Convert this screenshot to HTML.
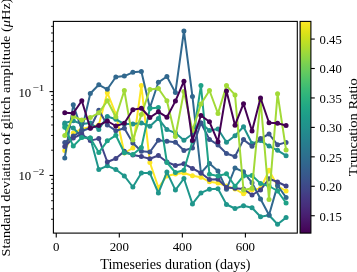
<!DOCTYPE html>
<html><head><meta charset="utf-8"><style>
html,body{margin:0;padding:0;background:#fff;width:357px;height:272px;overflow:hidden;}
svg{display:block;will-change:transform;}
</style></head><body>
<svg width="357" height="272" viewBox="0 0 357 272">
<defs><linearGradient id="vg" x1="0" y1="0" x2="0" y2="1"><stop offset="0.000" stop-color="#fde725"/><stop offset="0.025" stop-color="#efe51c"/><stop offset="0.050" stop-color="#dfe318"/><stop offset="0.075" stop-color="#cde11d"/><stop offset="0.100" stop-color="#bddf26"/><stop offset="0.125" stop-color="#addc30"/><stop offset="0.150" stop-color="#9bd93c"/><stop offset="0.175" stop-color="#8bd646"/><stop offset="0.200" stop-color="#7ad151"/><stop offset="0.225" stop-color="#6ccd5a"/><stop offset="0.250" stop-color="#5ec962"/><stop offset="0.275" stop-color="#50c46a"/><stop offset="0.300" stop-color="#44bf70"/><stop offset="0.325" stop-color="#38b977"/><stop offset="0.350" stop-color="#2fb47c"/><stop offset="0.375" stop-color="#28ae80"/><stop offset="0.400" stop-color="#22a884"/><stop offset="0.425" stop-color="#1fa287"/><stop offset="0.450" stop-color="#1e9c89"/><stop offset="0.475" stop-color="#1f968b"/><stop offset="0.500" stop-color="#21918c"/><stop offset="0.525" stop-color="#238a8d"/><stop offset="0.550" stop-color="#25848e"/><stop offset="0.575" stop-color="#277e8e"/><stop offset="0.600" stop-color="#2a788e"/><stop offset="0.625" stop-color="#2c728e"/><stop offset="0.650" stop-color="#2f6c8e"/><stop offset="0.675" stop-color="#31668e"/><stop offset="0.700" stop-color="#355f8d"/><stop offset="0.725" stop-color="#38598c"/><stop offset="0.750" stop-color="#3b528b"/><stop offset="0.775" stop-color="#3e4a89"/><stop offset="0.800" stop-color="#414487"/><stop offset="0.825" stop-color="#443b84"/><stop offset="0.850" stop-color="#463480"/><stop offset="0.875" stop-color="#472d7b"/><stop offset="0.900" stop-color="#482475"/><stop offset="0.925" stop-color="#481c6e"/><stop offset="0.950" stop-color="#471365"/><stop offset="0.975" stop-color="#460a5d"/><stop offset="1.000" stop-color="#440154"/></linearGradient></defs>
<defs><clipPath id="clip"><rect x="53.4" y="21.4" width="243.90" height="211.70"/></clipPath></defs>
<g clip-path="url(#clip)">
<polyline points="64.76,150.50 73.27,133.00 81.79,129.00 90.30,127.00 98.81,125.00 107.32,92.70 115.83,114.00 124.34,153.00 132.86,148.00 141.37,85.50 149.88,162.50 158.39,187.50 166.90,176.00 175.41,174.00 183.93,173.00 192.44,175.80 200.95,177.20 209.46,181.80 217.97,183.00 226.49,186.00 235.00,189.00 243.51,193.80 252.02,190.00 260.53,188.50 269.04,170.30 277.56,186.00 286.07,191.00" fill="none" stroke="#fde725" stroke-width="2.0" stroke-linejoin="round" stroke-linecap="butt"/>
<circle cx="64.76" cy="150.50" r="2.5" fill="#fde725"/>
<circle cx="73.27" cy="133.00" r="2.5" fill="#fde725"/>
<circle cx="81.79" cy="129.00" r="2.5" fill="#fde725"/>
<circle cx="90.30" cy="127.00" r="2.5" fill="#fde725"/>
<circle cx="98.81" cy="125.00" r="2.5" fill="#fde725"/>
<circle cx="107.32" cy="92.70" r="2.5" fill="#fde725"/>
<circle cx="115.83" cy="114.00" r="2.5" fill="#fde725"/>
<circle cx="124.34" cy="153.00" r="2.5" fill="#fde725"/>
<circle cx="132.86" cy="148.00" r="2.5" fill="#fde725"/>
<circle cx="141.37" cy="85.50" r="2.5" fill="#fde725"/>
<circle cx="149.88" cy="162.50" r="2.5" fill="#fde725"/>
<circle cx="158.39" cy="187.50" r="2.5" fill="#fde725"/>
<circle cx="166.90" cy="176.00" r="2.5" fill="#fde725"/>
<circle cx="175.41" cy="174.00" r="2.5" fill="#fde725"/>
<circle cx="183.93" cy="173.00" r="2.5" fill="#fde725"/>
<circle cx="192.44" cy="175.80" r="2.5" fill="#fde725"/>
<circle cx="200.95" cy="177.20" r="2.5" fill="#fde725"/>
<circle cx="209.46" cy="181.80" r="2.5" fill="#fde725"/>
<circle cx="217.97" cy="183.00" r="2.5" fill="#fde725"/>
<circle cx="226.49" cy="186.00" r="2.5" fill="#fde725"/>
<circle cx="235.00" cy="189.00" r="2.5" fill="#fde725"/>
<circle cx="243.51" cy="193.80" r="2.5" fill="#fde725"/>
<circle cx="252.02" cy="190.00" r="2.5" fill="#fde725"/>
<circle cx="260.53" cy="188.50" r="2.5" fill="#fde725"/>
<circle cx="269.04" cy="170.30" r="2.5" fill="#fde725"/>
<circle cx="277.56" cy="186.00" r="2.5" fill="#fde725"/>
<circle cx="286.07" cy="191.00" r="2.5" fill="#fde725"/>
<polyline points="64.76,123.00 73.27,120.80 81.79,124.00 90.30,123.00 98.81,129.50 107.32,116.50 115.83,119.30 124.34,124.00 132.86,124.10 141.37,123.00 149.88,126.30 158.39,118.60 166.90,129.60 175.41,133.00 183.93,140.20 192.44,134.00 200.95,122.90 209.46,130.50 217.97,129.00 226.49,142.20 235.00,135.80 243.51,126.80 252.02,143.50 260.53,140.60 269.04,146.10 277.56,150.30 286.07,155.70" fill="none" stroke="#21918c" stroke-width="2.0" stroke-linejoin="round" stroke-linecap="butt"/>
<circle cx="64.76" cy="123.00" r="2.5" fill="#21918c"/>
<circle cx="73.27" cy="120.80" r="2.5" fill="#21918c"/>
<circle cx="81.79" cy="124.00" r="2.5" fill="#21918c"/>
<circle cx="90.30" cy="123.00" r="2.5" fill="#21918c"/>
<circle cx="98.81" cy="129.50" r="2.5" fill="#21918c"/>
<circle cx="107.32" cy="116.50" r="2.5" fill="#21918c"/>
<circle cx="115.83" cy="119.30" r="2.5" fill="#21918c"/>
<circle cx="124.34" cy="124.00" r="2.5" fill="#21918c"/>
<circle cx="132.86" cy="124.10" r="2.5" fill="#21918c"/>
<circle cx="141.37" cy="123.00" r="2.5" fill="#21918c"/>
<circle cx="149.88" cy="126.30" r="2.5" fill="#21918c"/>
<circle cx="158.39" cy="118.60" r="2.5" fill="#21918c"/>
<circle cx="166.90" cy="129.60" r="2.5" fill="#21918c"/>
<circle cx="175.41" cy="133.00" r="2.5" fill="#21918c"/>
<circle cx="183.93" cy="140.20" r="2.5" fill="#21918c"/>
<circle cx="192.44" cy="134.00" r="2.5" fill="#21918c"/>
<circle cx="200.95" cy="122.90" r="2.5" fill="#21918c"/>
<circle cx="209.46" cy="130.50" r="2.5" fill="#21918c"/>
<circle cx="217.97" cy="129.00" r="2.5" fill="#21918c"/>
<circle cx="226.49" cy="142.20" r="2.5" fill="#21918c"/>
<circle cx="235.00" cy="135.80" r="2.5" fill="#21918c"/>
<circle cx="243.51" cy="126.80" r="2.5" fill="#21918c"/>
<circle cx="252.02" cy="143.50" r="2.5" fill="#21918c"/>
<circle cx="260.53" cy="140.60" r="2.5" fill="#21918c"/>
<circle cx="269.04" cy="146.10" r="2.5" fill="#21918c"/>
<circle cx="277.56" cy="150.30" r="2.5" fill="#21918c"/>
<circle cx="286.07" cy="155.70" r="2.5" fill="#21918c"/>
<polyline points="64.76,124.50 73.27,128.00 81.79,137.00 90.30,138.00 98.81,169.50 107.32,165.80 115.83,169.50 124.34,175.90 132.86,187.00 141.37,173.10 149.88,173.10 158.39,193.00 166.90,172.10 175.41,190.10 183.93,178.50 192.44,203.90 200.95,192.90 209.46,189.20 217.97,188.80 226.49,204.50 235.00,208.50 243.51,205.80 252.02,207.70 260.53,216.70 269.04,215.30 277.56,224.30 286.07,217.60" fill="none" stroke="#1f968b" stroke-width="2.0" stroke-linejoin="round" stroke-linecap="butt"/>
<circle cx="64.76" cy="124.50" r="2.5" fill="#1f968b"/>
<circle cx="73.27" cy="128.00" r="2.5" fill="#1f968b"/>
<circle cx="81.79" cy="137.00" r="2.5" fill="#1f968b"/>
<circle cx="90.30" cy="138.00" r="2.5" fill="#1f968b"/>
<circle cx="98.81" cy="169.50" r="2.5" fill="#1f968b"/>
<circle cx="107.32" cy="165.80" r="2.5" fill="#1f968b"/>
<circle cx="115.83" cy="169.50" r="2.5" fill="#1f968b"/>
<circle cx="124.34" cy="175.90" r="2.5" fill="#1f968b"/>
<circle cx="132.86" cy="187.00" r="2.5" fill="#1f968b"/>
<circle cx="141.37" cy="173.10" r="2.5" fill="#1f968b"/>
<circle cx="149.88" cy="173.10" r="2.5" fill="#1f968b"/>
<circle cx="158.39" cy="193.00" r="2.5" fill="#1f968b"/>
<circle cx="166.90" cy="172.10" r="2.5" fill="#1f968b"/>
<circle cx="175.41" cy="190.10" r="2.5" fill="#1f968b"/>
<circle cx="183.93" cy="178.50" r="2.5" fill="#1f968b"/>
<circle cx="192.44" cy="203.90" r="2.5" fill="#1f968b"/>
<circle cx="200.95" cy="192.90" r="2.5" fill="#1f968b"/>
<circle cx="209.46" cy="189.20" r="2.5" fill="#1f968b"/>
<circle cx="217.97" cy="188.80" r="2.5" fill="#1f968b"/>
<circle cx="226.49" cy="204.50" r="2.5" fill="#1f968b"/>
<circle cx="235.00" cy="208.50" r="2.5" fill="#1f968b"/>
<circle cx="243.51" cy="205.80" r="2.5" fill="#1f968b"/>
<circle cx="252.02" cy="207.70" r="2.5" fill="#1f968b"/>
<circle cx="260.53" cy="216.70" r="2.5" fill="#1f968b"/>
<circle cx="269.04" cy="215.30" r="2.5" fill="#1f968b"/>
<circle cx="277.56" cy="224.30" r="2.5" fill="#1f968b"/>
<circle cx="286.07" cy="217.60" r="2.5" fill="#1f968b"/>
<polyline points="64.76,158.00 73.27,104.80 81.79,130.00 90.30,93.50 98.81,84.80 107.32,89.30 115.83,77.00 124.34,76.10 132.86,72.30 141.37,71.60 149.88,107.80 158.39,82.30 166.90,76.50 175.41,92.60 183.93,31.00 192.44,96.40 200.95,173.00 209.46,163.40 217.97,170.90 226.49,189.30 235.00,168.00 243.51,171.80 252.02,182.80 260.53,199.00 269.04,215.00 277.56,185.40 286.07,197.50" fill="none" stroke="#31688e" stroke-width="2.0" stroke-linejoin="round" stroke-linecap="butt"/>
<circle cx="64.76" cy="158.00" r="2.5" fill="#31688e"/>
<circle cx="73.27" cy="104.80" r="2.5" fill="#31688e"/>
<circle cx="81.79" cy="130.00" r="2.5" fill="#31688e"/>
<circle cx="90.30" cy="93.50" r="2.5" fill="#31688e"/>
<circle cx="98.81" cy="84.80" r="2.5" fill="#31688e"/>
<circle cx="107.32" cy="89.30" r="2.5" fill="#31688e"/>
<circle cx="115.83" cy="77.00" r="2.5" fill="#31688e"/>
<circle cx="124.34" cy="76.10" r="2.5" fill="#31688e"/>
<circle cx="132.86" cy="72.30" r="2.5" fill="#31688e"/>
<circle cx="141.37" cy="71.60" r="2.5" fill="#31688e"/>
<circle cx="149.88" cy="107.80" r="2.5" fill="#31688e"/>
<circle cx="158.39" cy="82.30" r="2.5" fill="#31688e"/>
<circle cx="166.90" cy="76.50" r="2.5" fill="#31688e"/>
<circle cx="175.41" cy="92.60" r="2.5" fill="#31688e"/>
<circle cx="183.93" cy="31.00" r="2.5" fill="#31688e"/>
<circle cx="192.44" cy="96.40" r="2.5" fill="#31688e"/>
<circle cx="200.95" cy="173.00" r="2.5" fill="#31688e"/>
<circle cx="209.46" cy="163.40" r="2.5" fill="#31688e"/>
<circle cx="217.97" cy="170.90" r="2.5" fill="#31688e"/>
<circle cx="226.49" cy="189.30" r="2.5" fill="#31688e"/>
<circle cx="235.00" cy="168.00" r="2.5" fill="#31688e"/>
<circle cx="243.51" cy="171.80" r="2.5" fill="#31688e"/>
<circle cx="252.02" cy="182.80" r="2.5" fill="#31688e"/>
<circle cx="260.53" cy="199.00" r="2.5" fill="#31688e"/>
<circle cx="269.04" cy="215.00" r="2.5" fill="#31688e"/>
<circle cx="277.56" cy="185.40" r="2.5" fill="#31688e"/>
<circle cx="286.07" cy="197.50" r="2.5" fill="#31688e"/>
<polyline points="64.76,142.50 73.27,136.00 81.79,131.00 90.30,128.00 98.81,110.30 107.32,125.00 115.83,130.70 124.34,128.20 132.86,143.00 141.37,151.30 149.88,152.00 158.39,140.20 166.90,141.30 175.41,142.30 183.93,150.50 192.44,148.00 200.95,123.00 209.46,139.40 217.97,145.00 226.49,153.50 235.00,156.50 243.51,139.60 252.02,146.30 260.53,138.60 269.04,134.00 277.56,144.80 286.07,142.40" fill="none" stroke="#3b528b" stroke-width="2.0" stroke-linejoin="round" stroke-linecap="butt"/>
<circle cx="64.76" cy="142.50" r="2.5" fill="#3b528b"/>
<circle cx="73.27" cy="136.00" r="2.5" fill="#3b528b"/>
<circle cx="81.79" cy="131.00" r="2.5" fill="#3b528b"/>
<circle cx="90.30" cy="128.00" r="2.5" fill="#3b528b"/>
<circle cx="98.81" cy="110.30" r="2.5" fill="#3b528b"/>
<circle cx="107.32" cy="125.00" r="2.5" fill="#3b528b"/>
<circle cx="115.83" cy="130.70" r="2.5" fill="#3b528b"/>
<circle cx="124.34" cy="128.20" r="2.5" fill="#3b528b"/>
<circle cx="132.86" cy="143.00" r="2.5" fill="#3b528b"/>
<circle cx="141.37" cy="151.30" r="2.5" fill="#3b528b"/>
<circle cx="149.88" cy="152.00" r="2.5" fill="#3b528b"/>
<circle cx="158.39" cy="140.20" r="2.5" fill="#3b528b"/>
<circle cx="166.90" cy="141.30" r="2.5" fill="#3b528b"/>
<circle cx="175.41" cy="142.30" r="2.5" fill="#3b528b"/>
<circle cx="183.93" cy="150.50" r="2.5" fill="#3b528b"/>
<circle cx="192.44" cy="148.00" r="2.5" fill="#3b528b"/>
<circle cx="200.95" cy="123.00" r="2.5" fill="#3b528b"/>
<circle cx="209.46" cy="139.40" r="2.5" fill="#3b528b"/>
<circle cx="217.97" cy="145.00" r="2.5" fill="#3b528b"/>
<circle cx="226.49" cy="153.50" r="2.5" fill="#3b528b"/>
<circle cx="235.00" cy="156.50" r="2.5" fill="#3b528b"/>
<circle cx="243.51" cy="139.60" r="2.5" fill="#3b528b"/>
<circle cx="252.02" cy="146.30" r="2.5" fill="#3b528b"/>
<circle cx="260.53" cy="138.60" r="2.5" fill="#3b528b"/>
<circle cx="269.04" cy="134.00" r="2.5" fill="#3b528b"/>
<circle cx="277.56" cy="144.80" r="2.5" fill="#3b528b"/>
<circle cx="286.07" cy="142.40" r="2.5" fill="#3b528b"/>
<polyline points="64.76,146.50 73.27,138.00 81.79,134.20 90.30,140.60 98.81,138.60 107.32,162.00 115.83,158.50 124.34,151.30 132.86,155.00 141.37,156.60 149.88,158.80 158.39,155.50 166.90,162.00 175.41,165.50 183.93,163.80 192.44,168.40 200.95,173.00 209.46,179.50 217.97,179.20 226.49,187.50 235.00,188.30 243.51,189.00 252.02,195.00 260.53,190.00 269.04,178.80 277.56,182.00 286.07,186.00" fill="none" stroke="#414487" stroke-width="2.0" stroke-linejoin="round" stroke-linecap="butt"/>
<circle cx="64.76" cy="146.50" r="2.5" fill="#414487"/>
<circle cx="73.27" cy="138.00" r="2.5" fill="#414487"/>
<circle cx="81.79" cy="134.20" r="2.5" fill="#414487"/>
<circle cx="90.30" cy="140.60" r="2.5" fill="#414487"/>
<circle cx="98.81" cy="138.60" r="2.5" fill="#414487"/>
<circle cx="107.32" cy="162.00" r="2.5" fill="#414487"/>
<circle cx="115.83" cy="158.50" r="2.5" fill="#414487"/>
<circle cx="124.34" cy="151.30" r="2.5" fill="#414487"/>
<circle cx="132.86" cy="155.00" r="2.5" fill="#414487"/>
<circle cx="141.37" cy="156.60" r="2.5" fill="#414487"/>
<circle cx="149.88" cy="158.80" r="2.5" fill="#414487"/>
<circle cx="158.39" cy="155.50" r="2.5" fill="#414487"/>
<circle cx="166.90" cy="162.00" r="2.5" fill="#414487"/>
<circle cx="175.41" cy="165.50" r="2.5" fill="#414487"/>
<circle cx="183.93" cy="163.80" r="2.5" fill="#414487"/>
<circle cx="192.44" cy="168.40" r="2.5" fill="#414487"/>
<circle cx="200.95" cy="173.00" r="2.5" fill="#414487"/>
<circle cx="209.46" cy="179.50" r="2.5" fill="#414487"/>
<circle cx="217.97" cy="179.20" r="2.5" fill="#414487"/>
<circle cx="226.49" cy="187.50" r="2.5" fill="#414487"/>
<circle cx="235.00" cy="188.30" r="2.5" fill="#414487"/>
<circle cx="243.51" cy="189.00" r="2.5" fill="#414487"/>
<circle cx="252.02" cy="195.00" r="2.5" fill="#414487"/>
<circle cx="260.53" cy="190.00" r="2.5" fill="#414487"/>
<circle cx="269.04" cy="178.80" r="2.5" fill="#414487"/>
<circle cx="277.56" cy="182.00" r="2.5" fill="#414487"/>
<circle cx="286.07" cy="186.00" r="2.5" fill="#414487"/>
<polyline points="64.76,127.30 73.27,146.10 81.79,137.50 90.30,138.00 98.81,152.60 107.32,140.80 115.83,135.30 124.34,152.80 132.86,154.50 141.37,147.50 149.88,108.50 158.39,107.60 166.90,162.50 175.41,172.50 183.93,170.30 192.44,141.30 200.95,85.50 209.46,174.30 217.97,176.00 226.49,173.80 235.00,186.30 243.51,176.00 252.02,175.50 260.53,183.50 269.04,186.00 277.56,191.00 286.07,203.00" fill="none" stroke="#1fa187" stroke-width="2.0" stroke-linejoin="round" stroke-linecap="butt"/>
<circle cx="64.76" cy="127.30" r="2.5" fill="#1fa187"/>
<circle cx="73.27" cy="146.10" r="2.5" fill="#1fa187"/>
<circle cx="81.79" cy="137.50" r="2.5" fill="#1fa187"/>
<circle cx="90.30" cy="138.00" r="2.5" fill="#1fa187"/>
<circle cx="98.81" cy="152.60" r="2.5" fill="#1fa187"/>
<circle cx="107.32" cy="140.80" r="2.5" fill="#1fa187"/>
<circle cx="115.83" cy="135.30" r="2.5" fill="#1fa187"/>
<circle cx="124.34" cy="152.80" r="2.5" fill="#1fa187"/>
<circle cx="132.86" cy="154.50" r="2.5" fill="#1fa187"/>
<circle cx="141.37" cy="147.50" r="2.5" fill="#1fa187"/>
<circle cx="149.88" cy="108.50" r="2.5" fill="#1fa187"/>
<circle cx="158.39" cy="107.60" r="2.5" fill="#1fa187"/>
<circle cx="166.90" cy="162.50" r="2.5" fill="#1fa187"/>
<circle cx="175.41" cy="172.50" r="2.5" fill="#1fa187"/>
<circle cx="183.93" cy="170.30" r="2.5" fill="#1fa187"/>
<circle cx="192.44" cy="141.30" r="2.5" fill="#1fa187"/>
<circle cx="200.95" cy="85.50" r="2.5" fill="#1fa187"/>
<circle cx="209.46" cy="174.30" r="2.5" fill="#1fa187"/>
<circle cx="217.97" cy="176.00" r="2.5" fill="#1fa187"/>
<circle cx="226.49" cy="173.80" r="2.5" fill="#1fa187"/>
<circle cx="235.00" cy="186.30" r="2.5" fill="#1fa187"/>
<circle cx="243.51" cy="176.00" r="2.5" fill="#1fa187"/>
<circle cx="252.02" cy="175.50" r="2.5" fill="#1fa187"/>
<circle cx="260.53" cy="183.50" r="2.5" fill="#1fa187"/>
<circle cx="269.04" cy="186.00" r="2.5" fill="#1fa187"/>
<circle cx="277.56" cy="191.00" r="2.5" fill="#1fa187"/>
<circle cx="286.07" cy="203.00" r="2.5" fill="#1fa187"/>
<polyline points="64.76,135.50 73.27,116.50 81.79,120.00 90.30,117.60 98.81,112.80 107.32,100.80 115.83,117.00 124.34,90.50 132.86,140.00 141.37,114.60 149.88,89.50 158.39,88.50 166.90,100.80 175.41,136.50 183.93,91.60 192.44,130.50 200.95,104.00 209.46,90.50 217.97,113.50 226.49,85.60 235.00,94.90 243.51,190.00 252.02,188.30 260.53,100.00 269.04,199.50 277.56,93.80 286.07,149.90" fill="none" stroke="#a2da37" stroke-width="2.0" stroke-linejoin="round" stroke-linecap="butt"/>
<circle cx="64.76" cy="135.50" r="2.5" fill="#a2da37"/>
<circle cx="73.27" cy="116.50" r="2.5" fill="#a2da37"/>
<circle cx="81.79" cy="120.00" r="2.5" fill="#a2da37"/>
<circle cx="90.30" cy="117.60" r="2.5" fill="#a2da37"/>
<circle cx="98.81" cy="112.80" r="2.5" fill="#a2da37"/>
<circle cx="107.32" cy="100.80" r="2.5" fill="#a2da37"/>
<circle cx="115.83" cy="117.00" r="2.5" fill="#a2da37"/>
<circle cx="124.34" cy="90.50" r="2.5" fill="#a2da37"/>
<circle cx="132.86" cy="140.00" r="2.5" fill="#a2da37"/>
<circle cx="141.37" cy="114.60" r="2.5" fill="#a2da37"/>
<circle cx="149.88" cy="89.50" r="2.5" fill="#a2da37"/>
<circle cx="158.39" cy="88.50" r="2.5" fill="#a2da37"/>
<circle cx="166.90" cy="100.80" r="2.5" fill="#a2da37"/>
<circle cx="175.41" cy="136.50" r="2.5" fill="#a2da37"/>
<circle cx="183.93" cy="91.60" r="2.5" fill="#a2da37"/>
<circle cx="192.44" cy="130.50" r="2.5" fill="#a2da37"/>
<circle cx="200.95" cy="104.00" r="2.5" fill="#a2da37"/>
<circle cx="209.46" cy="90.50" r="2.5" fill="#a2da37"/>
<circle cx="217.97" cy="113.50" r="2.5" fill="#a2da37"/>
<circle cx="226.49" cy="85.60" r="2.5" fill="#a2da37"/>
<circle cx="235.00" cy="94.90" r="2.5" fill="#a2da37"/>
<circle cx="243.51" cy="190.00" r="2.5" fill="#a2da37"/>
<circle cx="252.02" cy="188.30" r="2.5" fill="#a2da37"/>
<circle cx="260.53" cy="100.00" r="2.5" fill="#a2da37"/>
<circle cx="269.04" cy="199.50" r="2.5" fill="#a2da37"/>
<circle cx="277.56" cy="93.80" r="2.5" fill="#a2da37"/>
<circle cx="286.07" cy="149.90" r="2.5" fill="#a2da37"/>
<polyline points="64.76,112.80 73.27,113.20 81.79,100.80 90.30,128.20 98.81,125.40 107.32,121.00 115.83,126.00 124.34,123.30 132.86,109.80 141.37,108.30 149.88,117.50 158.39,111.80 166.90,117.20 175.41,101.10 183.93,81.20 192.44,140.50 200.95,115.50 209.46,121.80 217.97,141.80 226.49,91.00 235.00,125.20 243.51,103.70 252.02,131.00 260.53,98.00 269.04,122.80 277.56,123.30 286.07,125.50" fill="none" stroke="#440154" stroke-width="2.0" stroke-linejoin="round" stroke-linecap="butt"/>
<circle cx="64.76" cy="112.80" r="2.5" fill="#440154"/>
<circle cx="73.27" cy="113.20" r="2.5" fill="#440154"/>
<circle cx="81.79" cy="100.80" r="2.5" fill="#440154"/>
<circle cx="90.30" cy="128.20" r="2.5" fill="#440154"/>
<circle cx="98.81" cy="125.40" r="2.5" fill="#440154"/>
<circle cx="107.32" cy="121.00" r="2.5" fill="#440154"/>
<circle cx="115.83" cy="126.00" r="2.5" fill="#440154"/>
<circle cx="124.34" cy="123.30" r="2.5" fill="#440154"/>
<circle cx="132.86" cy="109.80" r="2.5" fill="#440154"/>
<circle cx="141.37" cy="108.30" r="2.5" fill="#440154"/>
<circle cx="149.88" cy="117.50" r="2.5" fill="#440154"/>
<circle cx="158.39" cy="111.80" r="2.5" fill="#440154"/>
<circle cx="166.90" cy="117.20" r="2.5" fill="#440154"/>
<circle cx="175.41" cy="101.10" r="2.5" fill="#440154"/>
<circle cx="183.93" cy="81.20" r="2.5" fill="#440154"/>
<circle cx="192.44" cy="140.50" r="2.5" fill="#440154"/>
<circle cx="200.95" cy="115.50" r="2.5" fill="#440154"/>
<circle cx="209.46" cy="121.80" r="2.5" fill="#440154"/>
<circle cx="217.97" cy="141.80" r="2.5" fill="#440154"/>
<circle cx="226.49" cy="91.00" r="2.5" fill="#440154"/>
<circle cx="235.00" cy="125.20" r="2.5" fill="#440154"/>
<circle cx="243.51" cy="103.70" r="2.5" fill="#440154"/>
<circle cx="252.02" cy="131.00" r="2.5" fill="#440154"/>
<circle cx="260.53" cy="98.00" r="2.5" fill="#440154"/>
<circle cx="269.04" cy="122.80" r="2.5" fill="#440154"/>
<circle cx="277.56" cy="123.30" r="2.5" fill="#440154"/>
<circle cx="286.07" cy="125.50" r="2.5" fill="#440154"/>
</g>
<rect x="53.4" y="21.4" width="243.90" height="211.70" fill="none" stroke="#000" stroke-width="1.1"/>
<line x1="56.25" y1="233.1" x2="56.25" y2="237.5" stroke="#000" stroke-width="1.1"/>
<text x="56.25" y="251.4" font-family="Liberation Serif, serif" font-size="13.5" text-anchor="middle" fill="#000" textLength="6.45" lengthAdjust="spacingAndGlyphs">0</text>
<line x1="119.30" y1="233.1" x2="119.30" y2="237.5" stroke="#000" stroke-width="1.1"/>
<text x="119.30" y="251.4" font-family="Liberation Serif, serif" font-size="13.5" text-anchor="middle" fill="#000" textLength="19.35" lengthAdjust="spacingAndGlyphs">200</text>
<line x1="182.35" y1="233.1" x2="182.35" y2="237.5" stroke="#000" stroke-width="1.1"/>
<text x="182.35" y="251.4" font-family="Liberation Serif, serif" font-size="13.5" text-anchor="middle" fill="#000" textLength="19.35" lengthAdjust="spacingAndGlyphs">400</text>
<line x1="245.40" y1="233.1" x2="245.40" y2="237.5" stroke="#000" stroke-width="1.1"/>
<text x="245.40" y="251.4" font-family="Liberation Serif, serif" font-size="13.5" text-anchor="middle" fill="#000" textLength="19.35" lengthAdjust="spacingAndGlyphs">600</text>
<line x1="49.5" y1="91.60" x2="53.4" y2="91.60" stroke="#000" stroke-width="1.1"/>
<text x="18.4" y="96.50" font-family="Liberation Serif, serif" font-size="12.8" fill="#000" textLength="12.8" lengthAdjust="spacingAndGlyphs">10</text>
<text x="32.4" y="91.20" font-family="Liberation Serif, serif" font-size="9.2" fill="#000" textLength="12.0" lengthAdjust="spacingAndGlyphs">−1</text>
<line x1="49.5" y1="175.45" x2="53.4" y2="175.45" stroke="#000" stroke-width="1.1"/>
<text x="18.4" y="180.35" font-family="Liberation Serif, serif" font-size="12.8" fill="#000" textLength="12.8" lengthAdjust="spacingAndGlyphs">10</text>
<text x="32.4" y="175.05" font-family="Liberation Serif, serif" font-size="9.2" fill="#000" textLength="12.0" lengthAdjust="spacingAndGlyphs">−2</text>
<line x1="51.1" y1="219.29" x2="53.4" y2="219.29" stroke="#000" stroke-width="0.9"/>
<line x1="51.1" y1="208.82" x2="53.4" y2="208.82" stroke="#000" stroke-width="0.9"/>
<line x1="51.1" y1="200.69" x2="53.4" y2="200.69" stroke="#000" stroke-width="0.9"/>
<line x1="51.1" y1="194.05" x2="53.4" y2="194.05" stroke="#000" stroke-width="0.9"/>
<line x1="51.1" y1="188.44" x2="53.4" y2="188.44" stroke="#000" stroke-width="0.9"/>
<line x1="51.1" y1="183.58" x2="53.4" y2="183.58" stroke="#000" stroke-width="0.9"/>
<line x1="51.1" y1="179.29" x2="53.4" y2="179.29" stroke="#000" stroke-width="0.9"/>
<line x1="51.1" y1="150.21" x2="53.4" y2="150.21" stroke="#000" stroke-width="0.9"/>
<line x1="51.1" y1="135.44" x2="53.4" y2="135.44" stroke="#000" stroke-width="0.9"/>
<line x1="51.1" y1="124.97" x2="53.4" y2="124.97" stroke="#000" stroke-width="0.9"/>
<line x1="51.1" y1="116.84" x2="53.4" y2="116.84" stroke="#000" stroke-width="0.9"/>
<line x1="51.1" y1="110.20" x2="53.4" y2="110.20" stroke="#000" stroke-width="0.9"/>
<line x1="51.1" y1="104.59" x2="53.4" y2="104.59" stroke="#000" stroke-width="0.9"/>
<line x1="51.1" y1="99.73" x2="53.4" y2="99.73" stroke="#000" stroke-width="0.9"/>
<line x1="51.1" y1="95.44" x2="53.4" y2="95.44" stroke="#000" stroke-width="0.9"/>
<line x1="51.1" y1="66.36" x2="53.4" y2="66.36" stroke="#000" stroke-width="0.9"/>
<line x1="51.1" y1="51.59" x2="53.4" y2="51.59" stroke="#000" stroke-width="0.9"/>
<line x1="51.1" y1="41.12" x2="53.4" y2="41.12" stroke="#000" stroke-width="0.9"/>
<line x1="51.1" y1="32.99" x2="53.4" y2="32.99" stroke="#000" stroke-width="0.9"/>
<line x1="51.1" y1="26.35" x2="53.4" y2="26.35" stroke="#000" stroke-width="0.9"/>
<rect x="300.1" y="21.4" width="10.80" height="211.70" fill="url(#vg)"/>
<rect x="300.1" y="21.4" width="10.80" height="211.70" fill="none" stroke="#000" stroke-width="1.1"/>
<line x1="310.9" y1="215.73" x2="314.79999999999995" y2="215.73" stroke="#000" stroke-width="1.1"/>
<text x="319.6" y="220.53" font-family="Liberation Serif, serif" font-size="12.6" fill="#000" textLength="22.2" lengthAdjust="spacingAndGlyphs">0.15</text>
<line x1="310.9" y1="186.28" x2="314.79999999999995" y2="186.28" stroke="#000" stroke-width="1.1"/>
<text x="319.6" y="191.08" font-family="Liberation Serif, serif" font-size="12.6" fill="#000" textLength="22.2" lengthAdjust="spacingAndGlyphs">0.20</text>
<line x1="310.9" y1="156.84" x2="314.79999999999995" y2="156.84" stroke="#000" stroke-width="1.1"/>
<text x="319.6" y="161.64" font-family="Liberation Serif, serif" font-size="12.6" fill="#000" textLength="22.2" lengthAdjust="spacingAndGlyphs">0.25</text>
<line x1="310.9" y1="127.40" x2="314.79999999999995" y2="127.40" stroke="#000" stroke-width="1.1"/>
<text x="319.6" y="132.20" font-family="Liberation Serif, serif" font-size="12.6" fill="#000" textLength="22.2" lengthAdjust="spacingAndGlyphs">0.30</text>
<line x1="310.9" y1="97.95" x2="314.79999999999995" y2="97.95" stroke="#000" stroke-width="1.1"/>
<text x="319.6" y="102.75" font-family="Liberation Serif, serif" font-size="12.6" fill="#000" textLength="22.2" lengthAdjust="spacingAndGlyphs">0.35</text>
<line x1="310.9" y1="68.51" x2="314.79999999999995" y2="68.51" stroke="#000" stroke-width="1.1"/>
<text x="319.6" y="73.31" font-family="Liberation Serif, serif" font-size="12.6" fill="#000" textLength="22.2" lengthAdjust="spacingAndGlyphs">0.40</text>
<line x1="310.9" y1="39.07" x2="314.79999999999995" y2="39.07" stroke="#000" stroke-width="1.1"/>
<text x="319.6" y="43.87" font-family="Liberation Serif, serif" font-size="12.6" fill="#000" textLength="22.2" lengthAdjust="spacingAndGlyphs">0.45</text>
<text x="175.35" y="268.8" font-family="Liberation Serif, serif" font-size="13.6" text-anchor="middle" fill="#000" textLength="150" lengthAdjust="spacingAndGlyphs">Timeseries duration (days)</text>
<text transform="translate(9.9,127.4) rotate(-90)" x="0" y="0" font-family="Liberation Serif, serif" font-size="12.8" text-anchor="middle" fill="#000" textLength="258" lengthAdjust="spacingAndGlyphs">Standard deviation of glitch amplitude (<tspan font-style="italic">μ</tspan>Hz)</text>
<text transform="translate(356.6,127.2) rotate(-90)" x="0" y="0" font-family="Liberation Serif, serif" font-size="12.8" text-anchor="middle" fill="#000" textLength="98.0" lengthAdjust="spacingAndGlyphs">Truncation Ratio</text>
</svg>
</body></html>
